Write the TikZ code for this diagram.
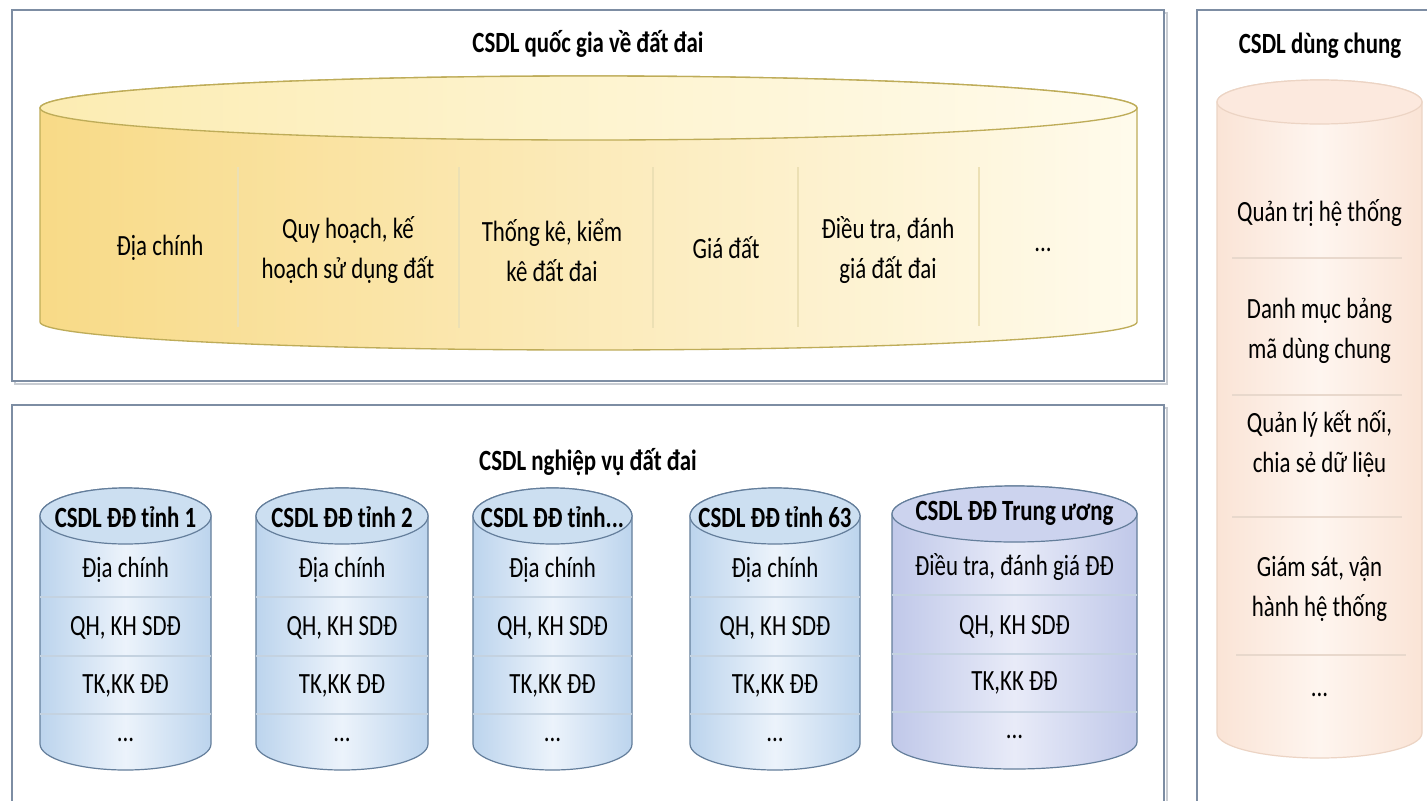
\documentclass[tikz,border=0pt]{standalone}
\usepackage{fontspec}
\setmainfont{Carlito}[FakeStretch=0.78]
\usepackage{tikz}
\usepackage{xcolor}

\definecolor{panelgray}{RGB}{125,141,163}
\definecolor{shadowgray}{RGB}{200,204,210}
\definecolor{goldline}{RGB}{190,172,88}
\definecolor{golddark}{RGB}{248,218,135}
\definecolor{goldpale}{RGB}{255,251,236}
\definecolor{goldtop}{RGB}{252,236,178}
\definecolor{goldsep}{RGB}{236,224,180}
\definecolor{canblue}{RGB}{100,126,155}
\definecolor{blueedge}{RGB}{188,212,237}
\definecolor{bluemid}{RGB}{236,243,251}
\definecolor{bluetop}{RGB}{204,223,241}
\definecolor{bluesep}{RGB}{196,210,224}
\definecolor{lavedge}{RGB}{192,200,233}
\definecolor{lavmid}{RGB}{232,235,248}
\definecolor{lavtop}{RGB}{204,211,238}
\definecolor{peachline}{RGB}{236,212,196}
\definecolor{peachedge}{RGB}{250,228,214}
\definecolor{peachmid}{RGB}{254,245,239}
\definecolor{peachtop}{RGB}{252,233,222}
\definecolor{peachsep}{RGB}{232,216,204}

\newcommand{\cdtxt}{\fontsize{22}{30}\selectfont}
\newcommand{\cdhead}{\fontsize{22}{30}\selectfont\bfseries}

\begin{document}
\begin{tikzpicture}[x=0.75pt,y=0.75pt,yscale=-1,xscale=1]
\clip (0,0) rectangle (1427,800);
\fill [white] (0,0) rectangle (1427,800);

%Shape: Rectangle [top panel]
\draw [color=shadowgray, line width=1.5] (14.5,12.5) rectangle (1166.5,383.5);
\draw [color=panelgray, line width=1.2, fill=white] (12,10) rectangle (1164,381);
%Shape: Rectangle [bottom panel]
\draw [color=shadowgray, line width=1.5] (14.5,407.5) rectangle (1166.5,815);
\draw [color=panelgray, line width=1.2, fill=white] (12,405) rectangle (1164,812);
%Shape: Rectangle [right panel]
\draw [color=shadowgray, line width=1.5] (1199.5,12.5) rectangle (1445,815);
\draw [color=panelgray, line width=1.2, fill=white] (1197,10) rectangle (1442,812);

%Shape: Can [national]
\draw [color=goldline, line width=1, left color=golddark, right color=goldpale] (40,108) -- (40,322) arc [start angle=180, end angle=0, x radius=548.5, y radius=28] -- (1137,108) arc [start angle=0, end angle=-180, x radius=548.5, y radius=32] -- cycle ;
\draw [color=goldline, line width=1, left color=goldtop, right color=goldpale] (588.5,108) ellipse [x radius=548.5, y radius=32] ;
%Straight Lines
\draw [color=goldsep, line width=0.8] (238,167) -- (238,327) ;
\draw [color=goldsep, line width=0.8] (459,167) -- (459,328) ;
\draw [color=goldsep, line width=0.8] (653,167) -- (653,328) ;
\draw [color=goldsep, line width=0.8] (798,167) -- (798,327) ;
\draw [color=goldsep, line width=0.8] (979,167) -- (979,326) ;

%Shape: Can [tinh 1]
\draw [color=canblue, line width=0.9, left color=blueedge, right color=blueedge, middle color=bluemid] (40,516) -- (40,744) arc [start angle=180, end angle=0, x radius=85.5, y radius=26] -- (211,516) arc [start angle=0, end angle=-180, x radius=85.5, y radius=28] -- cycle ;
\draw [color=canblue, line width=0.9, fill=bluetop] (125.5,516) ellipse [x radius=85.5, y radius=28] ;
%Shape: Can [tinh 2]
\draw [color=canblue, line width=0.9, left color=blueedge, right color=blueedge, middle color=bluemid] (256,516) -- (256,744) arc [start angle=180, end angle=0, x radius=86, y radius=26] -- (428,516) arc [start angle=0, end angle=-180, x radius=86, y radius=28] -- cycle ;
\draw [color=canblue, line width=0.9, fill=bluetop] (342,516) ellipse [x radius=86, y radius=28] ;
%Shape: Can [tinh ...]
\draw [color=canblue, line width=0.9, left color=blueedge, right color=blueedge, middle color=bluemid] (473,516) -- (473,744) arc [start angle=180, end angle=0, x radius=79.5, y radius=26] -- (632,516) arc [start angle=0, end angle=-180, x radius=79.5, y radius=28] -- cycle ;
\draw [color=canblue, line width=0.9, fill=bluetop] (552.5,516) ellipse [x radius=79.5, y radius=28] ;
%Shape: Can [tinh 63]
\draw [color=canblue, line width=0.9, left color=blueedge, right color=blueedge, middle color=bluemid] (690,516) -- (690,744) arc [start angle=180, end angle=0, x radius=85, y radius=26] -- (860,516) arc [start angle=0, end angle=-180, x radius=85, y radius=28] -- cycle ;
\draw [color=canblue, line width=0.9, fill=bluetop] (775,516) ellipse [x radius=85, y radius=28] ;
%Shape: Can [trung uong]
\draw [color=canblue, line width=0.9, left color=lavedge, right color=lavedge, middle color=lavmid] (892,514) -- (892,742) arc [start angle=180, end angle=0, x radius=122.5, y radius=27] -- (1137,514) arc [start angle=0, end angle=-180, x radius=122.5, y radius=28] -- cycle ;
\draw [color=canblue, line width=0.9, fill=lavtop] (1014.5,514) ellipse [x radius=122.5, y radius=28] ;

%Straight Lines [rows]
\draw [color=bluesep, line width=1.2] (40,597) -- (211,597) (40,656) -- (211,656) (40,714) -- (211,714) ;
\draw [color=bluesep, line width=1.2] (256,597) -- (428,597) (256,656) -- (428,656) (256,714) -- (428,714) ;
\draw [color=bluesep, line width=1.2] (473,597) -- (632,597) (473,656) -- (632,656) (473,714) -- (632,714) ;
\draw [color=bluesep, line width=1.2] (690,597) -- (860,597) (690,656) -- (860,656) (690,714) -- (860,714) ;
\draw [color=bluesep, line width=1.2] (892,595) -- (1137,595) (892,654) -- (1137,654) (892,712) -- (1137,712) ;

%Shape: Can [dung chung]
\draw [color=peachline, line width=0.9, left color=peachedge, right color=peachedge, middle color=peachmid] (1217,102) -- (1217,733) arc [start angle=180, end angle=0, x radius=102.5, y radius=25] -- (1422,102) arc [start angle=0, end angle=-180, x radius=102.5, y radius=22] -- cycle ;
\draw [color=peachline, line width=0.9, fill=peachtop] (1319.5,102) ellipse [x radius=102.5, y radius=22] ;
%Straight Lines
\draw [color=peachsep, line width=1.2] (1232,258) -- (1402,258) (1232,395) -- (1402,395) (1232,517) -- (1402,517) (1236,655) -- (1406,655) ;

% Text Node
\draw (588,44) node (qgtitle) [inner sep=0.75pt] [font=\cdhead] {CSDL quốc gia về đất đai};
% Text Node
\draw (160,248) node (qgdc) [inner sep=0.75pt] [font=\cdtxt] [align=center] {Địa chính};
% Text Node
\draw (348,250) node (qgqh) [inner sep=0.75pt] [font=\cdtxt] [align=center] {Quy hoạch, kế\\hoạch sử dụng đất};
% Text Node
\draw (552,250) node (qgtk) [inner sep=0.75pt] [font=\cdtxt] [align=center] {Thống kê, kiểm\\kê đất đai};
% Text Node
\draw (726,248) node (qggd) [inner sep=0.75pt] [font=\cdtxt] [align=center] {Giá đất};
% Text Node
\draw (888,250) node (qgdt) [inner sep=0.75pt] [font=\cdtxt] [align=center] {Điều tra, đánh\\giá đất đai};
% Text Node
\draw (1043,250) node (qgmore) [inner sep=0.75pt] [font=\cdtxt] {...};

% Text Node
\draw (588,462) node (nvtitle) [inner sep=0.75pt] [font=\cdhead] {CSDL nghiệp vụ đất đai};
% Text Node
\draw (125.5,517) node (t1h) [inner sep=0.75pt] [font=\cdhead] {CSDL ĐĐ tỉnh 1};
\draw (125.5,570) node (t1a) [inner sep=0.75pt] [font=\cdtxt] {Địa chính};
\draw (125.5,628) node (t1b) [inner sep=0.75pt] [font=\cdtxt] {QH, KH SDĐ};
\draw (125.5,686) node (t1c) [inner sep=0.75pt] [font=\cdtxt] {TK,KK ĐĐ};
\draw (125.5,740) node (t1d) [inner sep=0.75pt] [font=\cdtxt] {...};
% Text Node
\draw (342,517) node (t2h) [inner sep=0.75pt] [font=\cdhead] {CSDL ĐĐ tỉnh 2};
\draw (342,570) node (t2a) [inner sep=0.75pt] [font=\cdtxt] {Địa chính};
\draw (342,628) node (t2b) [inner sep=0.75pt] [font=\cdtxt] {QH, KH SDĐ};
\draw (342,686) node (t2c) [inner sep=0.75pt] [font=\cdtxt] {TK,KK ĐĐ};
\draw (342,740) node (t2d) [inner sep=0.75pt] [font=\cdtxt] {...};
% Text Node
\draw (552.5,517) node (t3h) [inner sep=0.75pt] [font=\cdhead] {CSDL ĐĐ tỉnh...};
\draw (552.5,570) node (t3a) [inner sep=0.75pt] [font=\cdtxt] {Địa chính};
\draw (552.5,628) node (t3b) [inner sep=0.75pt] [font=\cdtxt] {QH, KH SDĐ};
\draw (552.5,686) node (t3c) [inner sep=0.75pt] [font=\cdtxt] {TK,KK ĐĐ};
\draw (552.5,740) node (t3d) [inner sep=0.75pt] [font=\cdtxt] {...};
% Text Node
\draw (775,517) node (t4h) [inner sep=0.75pt] [font=\cdhead] {CSDL ĐĐ tỉnh 63};
\draw (775,570) node (t4a) [inner sep=0.75pt] [font=\cdtxt] {Địa chính};
\draw (775,628) node (t4b) [inner sep=0.75pt] [font=\cdtxt] {QH, KH SDĐ};
\draw (775,686) node (t4c) [inner sep=0.75pt] [font=\cdtxt] {TK,KK ĐĐ};
\draw (775,740) node (t4d) [inner sep=0.75pt] [font=\cdtxt] {...};
% Text Node
\draw (1014.5,513) node (twh) [inner sep=0.75pt] [font=\cdhead] {CSDL ĐĐ Trung ương};
\draw (1014.5,567) node (twa) [inner sep=0.75pt] [font=\cdtxt] {Điều tra, đánh giá ĐĐ};
\draw (1014.5,627) node (twb) [inner sep=0.75pt] [font=\cdtxt] {QH, KH SDĐ};
\draw (1014.5,683) node (twc) [inner sep=0.75pt] [font=\cdtxt] {TK,KK ĐĐ};
\draw (1014.5,737) node (twd) [inner sep=0.75pt] [font=\cdtxt] {...};

% Text Node
\draw (1320,46) node (dctitle) [inner sep=0.75pt] [font=\cdhead] {CSDL dùng chung};
\draw (1319.5,213) node (dcqt) [inner sep=0.75pt] [font=\cdtxt] {Quản trị hệ thống};
\draw (1319.5,331) node (dcdm) [inner sep=0.75pt] [font=\cdtxt] [align=center] {Danh mục bảng\\mã dùng chung};
\draw (1319.5,444) node (dckn) [inner sep=0.75pt] [font=\cdtxt] [align=center] {Quản lý kết nối,\\chia sẻ dữ liệu};
\draw (1319.5,589) node (dcgs) [inner sep=0.75pt] [font=\cdtxt] [align=center] {Giám sát, vận\\hành hệ thống};
\draw (1319.5,695) node (dcmore) [inner sep=0.75pt] [font=\cdtxt] {...};

\end{tikzpicture}
\end{document}
